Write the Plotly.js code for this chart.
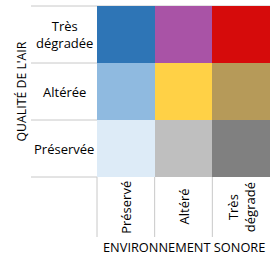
<!DOCTYPE html>
<html>
<head>
<meta charset="utf-8">
<script src="https://cdn.plot.ly/plotly-3.0.1.min.js"></script>
<style>html,body{margin:0;padding:0;background:#fff}#chart{width:270px;height:260px}</style>
</head>
<body>
<div id="chart"></div>
<script>
// Data
var soundLevels = ["Préservé", "Altéré", "Très dégradé"];
var soundLabels = ["Préservé", "Altéré", "Très<br>dégradé"];
var airLevels = ["Préservée", "Altérée", "Très dégradée"];
var airLabels = ["Préservée", "Altérée", "Très<br>dégradée"];
// class index per cell (rows = air quality from Préservée to Très dégradée)
var cellClass = [
  [0, 1, 2],
  [3, 4, 5],
  [6, 7, 8]
];
var classColors = [
  "#DDEBF7", "#BFBFBF", "#808080",
  "#8FBAE0", "#FFD146", "#B69A59",
  "#2E75B6", "#A953A6", "#D60B0B"
];
var xTitle = "ENVIRONNEMENT SONORE";
var yTitle = "QUALITÉ DE L'AIR";

var n = classColors.length;
var colorscale = [];
for (var i = 0; i < n; i++) {
  colorscale.push([i / n, classColors[i]]);
  colorscale.push([(i + 1) / n, classColors[i]]);
}

var font = "Open Sans, Noto Sans, sans-serif";
var lineColor = "#C8C8C8";

var W = 270, H = 260;
var m = {l: 97, r: 0, t: 6, b: 83};
var pw = W - m.l - m.r, ph = H - m.t - m.b;
function px(v) { return v / pw; }
function py(v) { return v / ph; }

var annotations = [];
soundLevels.forEach(function (c, i) {
  annotations.push({
    x: c, xref: "x", y: py(-30), yref: "paper",
    text: soundLabels[i], textangle: -90, showarrow: false,
    font: {family: font, size: 13, color: "#000"},
    xanchor: "center", yanchor: "middle"
  });
});
airLevels.forEach(function (c, i) {
  annotations.push({
    x: px(-33), xref: "paper", y: c, yref: "y",
    text: airLabels[i], showarrow: false,
    font: {family: font, size: 13, color: "#000"},
    xanchor: "center", yanchor: "middle"
  });
});
annotations.push({
  x: px(86.5), xref: "paper", y: py(-70), yref: "paper",
  text: xTitle, showarrow: false,
  font: {family: font, size: 12.8, color: "#000"},
  xanchor: "center", yanchor: "middle"
});
annotations.push({
  x: px(-76), xref: "paper", y: 0.5, yref: "paper",
  text: yTitle, textangle: -90, showarrow: false,
  font: {family: font, size: 12.3, color: "#000"},
  xanchor: "center", yanchor: "middle"
});

var shapes = [];
[0, 1 / 3, 2 / 3, 1].forEach(function (yy) {
  shapes.push({type: "line", xref: "paper", yref: "paper",
    x0: px(-66), x1: yy === 1 ? 1 : 0, y0: yy, y1: yy,
    line: {color: lineColor, width: 1}, layer: "below"});
});
[0, 1 / 3, 2 / 3].forEach(function (xx) {
  shapes.push({type: "line", xref: "paper", yref: "paper",
    x0: xx, x1: xx, y0: 0, y1: py(-60),
    line: {color: lineColor, width: 1}, layer: "below"});
});

var trace = {
  type: "heatmap",
  x: soundLevels,
  y: airLevels,
  z: cellClass,
  zmin: -0.5, zmax: n - 0.5,
  colorscale: colorscale,
  showscale: false,
  hoverinfo: "none",
  xgap: 0, ygap: 0
};

var layout = {
  width: W, height: H,
  margin: m,
  paper_bgcolor: "#fff", plot_bgcolor: "#fff",
  xaxis: {type: "category", showticklabels: false, showgrid: false, zeroline: false, ticks: "", fixedrange: true},
  yaxis: {type: "category", showticklabels: false, showgrid: false, zeroline: false, ticks: "", fixedrange: true},
  annotations: annotations,
  shapes: shapes,
  showlegend: false
};

Plotly.newPlot("chart", [trace], layout, {displayModeBar: false, staticPlot: true});
</script>
</body>
</html>
